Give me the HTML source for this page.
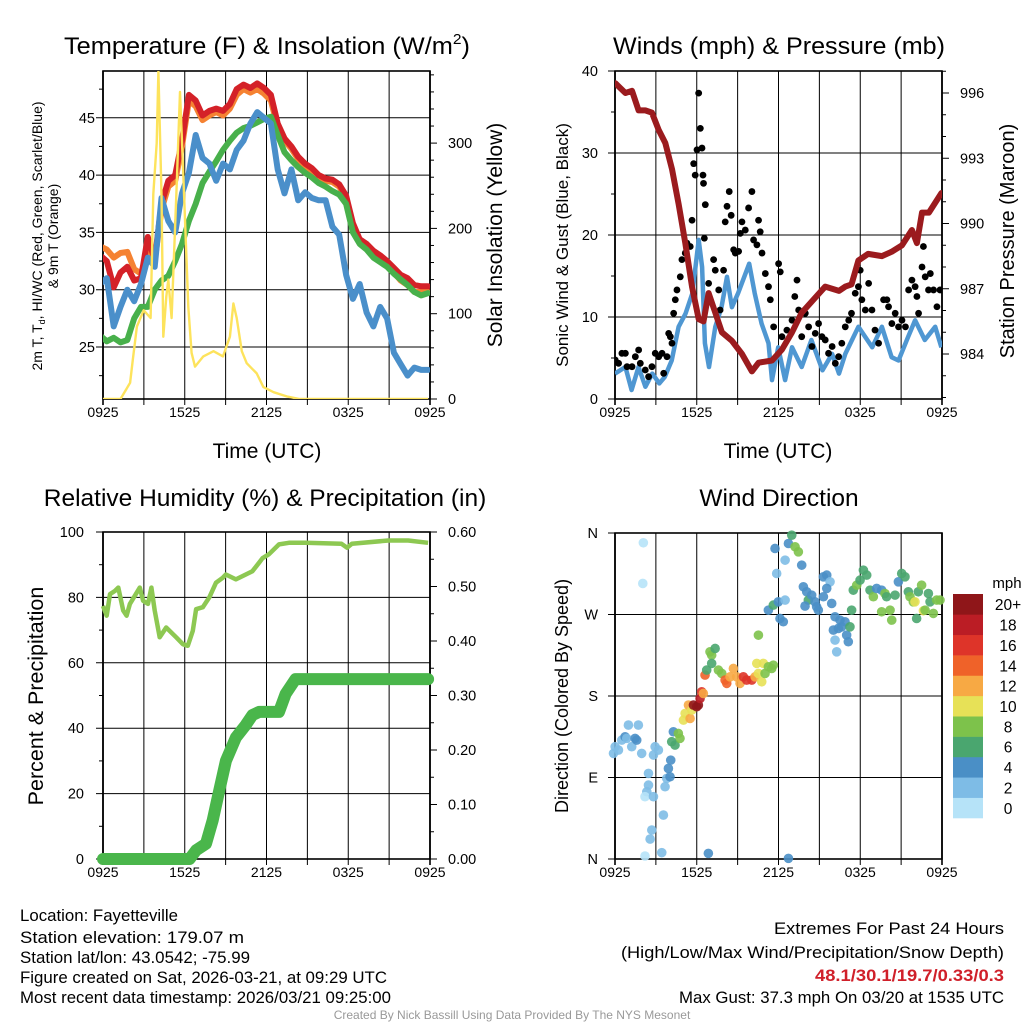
<!DOCTYPE html>
<html><head><meta charset="utf-8"><style>
html,body{margin:0;padding:0;background:#fff;}
svg{display:block;font-family:"Liberation Sans",Arial,sans-serif;}
</style></head><body>
<svg id="chart" width="1024" height="1024" viewBox="0 0 1024 1024" xmlns="http://www.w3.org/2000/svg">
<rect x="0" y="0" width="1024" height="1024" fill="#fff"/>
<g id="texts" font-size="16.5" fill="#000">
<text x="267" y="54" text-anchor="middle" font-size="24.5" textLength="406" lengthAdjust="spacingAndGlyphs">Temperature (F) &amp; Insolation (W/m<tspan font-size="15" dy="-10">2</tspan><tspan dy="10">)</tspan></text>
<text x="779" y="54" text-anchor="middle" font-size="24.5" textLength="332" lengthAdjust="spacingAndGlyphs">Winds (mph) &amp; Pressure (mb)</text>
<text x="265" y="506" text-anchor="middle" font-size="24.5">Relative Humidity (%) &amp; Precipitation (in)</text>
<text x="779" y="506" text-anchor="middle" font-size="24.5">Wind Direction</text>
<text x="267" y="458" text-anchor="middle" font-size="21">Time (UTC)</text>
<text x="778" y="458" text-anchor="middle" font-size="21">Time (UTC)</text>
<text transform="translate(42,236) rotate(-90)" text-anchor="middle" font-size="14">2m T, T<tspan font-size="9" dy="3">d</tspan><tspan dy="-3">, HI/WC (Red, Green, Scarlet/Blue)</tspan></text>
<text transform="translate(58,236) rotate(-90)" text-anchor="middle" font-size="14">&amp; 9m T (Orange)</text>
<text transform="translate(502,235) rotate(-90)" text-anchor="middle" font-size="21">Solar Insolation (Yellow)</text>
<text transform="translate(568,245) rotate(-90)" text-anchor="middle" font-size="17">Sonic Wind &amp; Gust (Blue, Black)</text>
<text transform="translate(1014,241) rotate(-90)" text-anchor="middle" font-size="20">Station Pressure (Maroon)</text>
<text transform="translate(43,696) rotate(-90)" text-anchor="middle" font-size="21.5">Percent &amp; Precipitation</text>
<text transform="translate(568,696) rotate(-90)" text-anchor="middle" font-size="18">Direction (Colored By Speed)</text>
<text x="20" y="921" textLength="158" lengthAdjust="spacingAndGlyphs">Location: Fayetteville</text>
<text x="20" y="943" textLength="224" lengthAdjust="spacingAndGlyphs">Station elevation: 179.07 m</text>
<text x="20" y="963" textLength="230" lengthAdjust="spacingAndGlyphs">Station lat/lon: 43.0542; -75.99</text>
<text x="20" y="983" textLength="367" lengthAdjust="spacingAndGlyphs">Figure created on Sat, 2026-03-21, at 09:29 UTC</text>
<text x="20" y="1003" textLength="371" lengthAdjust="spacingAndGlyphs">Most recent data timestamp: 2026/03/21 09:25:00</text>
<text x="1004" y="934" text-anchor="end" textLength="230" lengthAdjust="spacingAndGlyphs">Extremes For Past 24 Hours</text>
<text x="1004" y="958" text-anchor="end" textLength="383" lengthAdjust="spacingAndGlyphs">(High/Low/Max Wind/Precipitation/Snow Depth)</text>
<text x="1004" y="981" text-anchor="end" font-weight="bold" fill="#d0202a" textLength="189" lengthAdjust="spacingAndGlyphs">48.1/30.1/19.7/0.33/0.3</text>
<text x="1004" y="1003" text-anchor="end" textLength="325" lengthAdjust="spacingAndGlyphs">Max Gust: 37.3 mph On 03/20 at 1535 UTC</text>
<text x="512" y="1019" text-anchor="middle" font-size="12" fill="#999">Created By Nick Bassill Using Data Provided By The NYS Mesonet</text>
<text x="1007" y="588" text-anchor="middle" font-size="15">mph</text>
</g>
</svg>
<script>
// ---------- DATA ----------
const xTickLabels = ["0925","1525","2125","0325","0925"];
const tempHours = [0,0.5,1,1.5,2,2.5,3,3.5,4,4.5,5,5.5,6,6.5,7,7.5,8,8.5,9,9.5,10,10.5,11,11.5,12,12.5,13,13.5,14,14.5,15,15.5,16,16.5,17,17.5,18,18.5,19,19.5,20,20.5,21,21.5,22,22.5,23,23.5,24];
const redT = [33,32.5,30.2,31.5,32,30.8,31,34.6,32.6,37.5,39.5,40,43,47,46.5,45.2,45.6,45.8,45.6,46.2,47.5,47.9,47.6,48,47.6,47,44.5,43.2,42.5,41.6,41,40.6,40,39.7,39.6,39.2,38.2,35.8,34.4,34,33.4,33,32.5,31.9,31.3,31,30.4,30.3,30.3];
const orangeT = [33.8,33.5,32.8,33.2,33.3,31.8,31.4,33.5,32.5,37,39,39.5,42.5,46.5,46,44.8,45.2,45.5,45.2,45.8,47,47.5,47.2,47.5,47.1,46.5,44.2,43,42.3,41.4,40.8,40.4,39.8,39.5,39.4,39,38,35.6,34.1,33.7,33.1,32.7,32.2,31.5,30.8,30.4,29.8,29.8,29.8];
const greenT = [26,25.5,25.8,25.4,25.6,27.5,28.5,28.5,30,30.8,31.2,32.5,34,36,37.5,39.3,40.3,41.2,42.2,43,43.7,44.1,44.3,44.6,44.9,45.1,43.5,42,41.3,40.7,40.2,39.8,39.3,39,38.6,38.3,37.5,35,34,33.5,32.8,32.4,32,31.4,30.9,30.4,29.8,29.5,29.7];
const blueT = [30.5,31,26.8,28.5,30,29,30.5,32.8,32,38,36,35,38.4,40.2,43.5,41.5,41,39.5,41,40.5,42.2,43,44.5,45.5,45,44.5,40.5,38.4,40.5,37.8,38.5,38,37.8,37.8,35.5,34.8,31.3,29.2,30.5,28,26.8,28.5,27.5,24.5,23.5,22.5,23.2,23,23];
const solarHours = [0,1.5,2.2,2.4,2.7,3.2,3.7,3.9,4.15,4.27,4.5,4.63,4.85,5.0,5.24,5.6,5.85,6.1,6.46,6.7,6.95,7.56,8.3,9.0,9.5,9.76,10.0,10.37,10.73,11.46,11.95,12.7,13.66,14.6,24];
const solarVals = [0,0,19,46,85,104,95,240,300,384,240,73,120,140,95,248,360,260,108,54,38,50,56,50,73,112,95,56,42,30,14,8,3,0,0];
const tempTicks = [25,30,35,40,45];
const solarTicks = [0,100,200,300];
const presHours = [0.52,1.25,1.73,2.21,2.69,3.17,3.66,4.14,4.62,5.1,5.58,6.07,6.55,6.9,7.27,7.75,8.23,8.96,9.68,10.4,10.88,11.85,12.57,13.3,14.0,15.0,15.7,16.7,17.15,17.6,18.1,18.8,19.8,20.5,21.25,21.97,22.33,22.7,23.2,24.1];
const presVals = [996.45,996,996.1,995.2,995.2,995.1,994.3,993.7,992.5,990.9,989.1,987.1,985.6,985.5,986.8,985.9,985,984.6,984,983.2,983.6,983.7,984.2,985,985.9,986.6,987.1,986.9,987.1,987.2,988.3,988.6,988.5,988.7,989,989.7,989.1,990.5,990.5,991.4];
const windHours = [0.5,1.25,1.7,2.2,2.7,3.2,3.7,4.1,4.6,5.1,5.6,6.1,6.55,6.8,7.0,7.3,7.75,8.2,8.6,8.95,9.4,10.2,10.6,11.1,11.6,11.85,12.3,12.8,13.3,14.0,14.7,15.5,16.2,16.7,17.15,18.1,19.1,19.8,20.5,21.0,21.7,22.2,22.9,23.65,24.1];
const windVals = [3.1,3.9,1.1,3.9,1.5,3.1,1.9,2.7,4.7,8.8,10.4,12.9,19.4,16.1,6.8,3.9,8.8,11.2,14.9,11.2,12.9,16.5,12.9,9.2,6.8,2.3,6.3,2.3,6.3,3.9,7.2,3.5,5.5,3.1,5.5,8.8,6.3,8.8,5.1,4.7,7.6,9.6,7.2,8.8,6.3];
const gustHours = [0.52,0.76,1.0,1.25,1.37,1.73,1.97,2.21,2.33,2.69,2.93,3.17,3.41,3.66,3.9,4.02,4.26,4.38,4.5,4.62,4.74,4.86,4.98,5.22,5.34,5.58,5.7,5.94,6.07,6.19,6.3,6.43,6.55,6.67,6.79,6.86,6.9,7.03,6.96,7.27,7.39,7.63,7.75,8.0,8.1,8.35,8.47,8.6,8.76,8.9,9.08,9.2,9.44,9.56,9.68,9.92,10.16,10.4,10.52,10.76,10.88,11.0,11.13,11.37,11.6,11.73,11.97,12.33,12.45,12.57,12.93,13.3,13.5,13.66,13.78,14.0,14.26,14.5,14.74,14.98,15.22,15.46,15.7,15.94,16.2,16.43,16.67,16.9,17.15,17.4,17.6,17.87,18.1,18.23,18.35,18.6,18.84,19.08,19.3,19.56,19.92,20.16,20.28,20.52,20.76,21.0,21.25,21.5,21.73,21.97,22.2,22.33,22.45,22.7,22.8,22.93,23.17,23.3,23.53,23.78,24.0];
const gustVals = [4.76,4.35,5.57,5.57,3.94,3.94,5.16,5.98,4.35,3.54,2.72,3.94,5.57,5.16,5.57,3.13,5.16,8.0,7.6,6.8,10.45,12.1,13.3,14.9,17.0,17.8,19.0,18.6,21.8,28.7,27.3,30.4,37.3,33.0,30.6,27.3,26.3,23.7,19.6,14.1,12.1,17.0,15.7,13.3,10.85,15.7,21.6,23.5,25.3,22.4,18.2,17.8,18.0,20.2,21.6,20.6,23.3,25.3,19.4,18.8,21.8,20.4,17.8,15.3,13.7,12.1,8.8,16.5,15.5,7.6,8.4,9.6,12.5,14.5,10.85,7.6,10.45,8.8,6.4,8.0,9.2,7.6,7.2,5.57,6.4,4.35,5.16,6.8,8.8,9.6,10.45,12.9,13.7,15.7,12.1,10.85,14.1,10.85,8.4,6.8,12.1,12.1,11.25,9.2,10.45,8.8,9.6,8.8,13.3,14.5,13.7,12.5,10.45,16.1,18.6,14.9,13.3,15.3,13.3,11.25,13.3];
const windTicks = [0,10,20,30,40];
const presTicks = [984,987,990,993,996];
const rhHours = [0,0.27,0.51,0.88,1.12,1.48,1.73,1.97,2.7,2.94,3.3,3.55,3.79,4.16,4.64,5.37,5.86,6.22,6.59,6.83,7.32,7.8,8.29,8.78,9.02,9.75,10.48,10.96,11.45,11.7,12.18,12.91,13.64,14.85,17.5,17.9,18.26,20.93,22.39,23.85];
const rhVals = [77.4,74.4,81,82,83,76,74.4,78,83,79,78,83,76,67.8,70.8,67.8,65.7,65.2,69.8,76.4,77,80,84.5,86,87,85.5,87,88,90.6,92,93.2,96.2,96.7,96.7,96.4,95.2,96.4,97.4,97.4,96.7];
const precipHours = [0,6.35,6.83,7.56,8.05,8.53,9.02,9.75,10.48,10.96,11.45,12.91,13.4,14.12,23.85];
const precipVals = [0,0,0.016,0.028,0.071,0.126,0.18,0.223,0.246,0.264,0.27,0.27,0.303,0.33,0.33];
const rhTicks = [0,20,40,60,80,100];
const precipTicks = ["0.00","0.10","0.20","0.30","0.40","0.50","0.60"];
const dirHours = [0.39,0.51,0.75,0.99,1.23,1.35,1.47,1.71,1.95,2.07,2.19,2.43,2.55,2.51,3.28,3.4,3.64,2.92,2.92,2.8,2.67,3.28,4.0,3.16,3.04,2.67,3.88,4.24,4.36,4.53,4.12,4.48,4.72,4.84,5.08,5.2,4.6,5.45,5.57,5.81,5.93,6.05,6.17,6.41,6.53,6.65,6.77,6.89,7.01,7.13,7.37,7.49,7.74,7.49,7.98,8.22,8.46,8.58,8.82,9.06,9.3,9.54,9.78,10.02,10.39,10.63,10.87,10.75,11.23,11.11,11.35,11.59,11.83,11.95,10.87,11.59,11.95,12.31,12.43,12.67,12.19,12.8,12.07,12.8,13.04,13.28,13.52,13.76,14.0,14.12,14.36,14.48,14.72,14.96,15.2,14.24,15.08,15.57,15.81,16.05,15.81,15.57,16.17,16.41,16.77,16.89,17.13,16.29,16.65,16.41,16.53,17.25,17.49,17.37,17.61,17.73,17.98,18.22,18.46,18.7,18.94,19.18,19.42,19.78,20.02,20.14,19.78,20.39,20.51,20.75,20.99,21.23,21.47,21.71,21.83,22.07,22.19,22.31,22.43,22.67,22.8,22.92,23.16,23.28,23.52,23.76,24.0,13.04,7.25];
const dirDeg = [116.6,124,120.3,131.3,135,133.2,147.9,124,133.2,131.3,147.9,116.6,349.2,304.3,114.8,124,120.3,94.5,81.6,74.3,68.8,68.8,48.5,32,22,3.3,7,89,100,109.2,79.8,90.8,140.5,125.8,138.7,133.2,129.5,153.4,160.8,170,155.2,164.4,170,168.1,170,177.3,184.7,182.8,203.1,208.6,228.8,225.2,232.5,216,208.6,204.9,197.6,193.9,201.2,210.4,201.2,193.9,201.2,197.6,197.6,201.2,204.9,216,216,195.7,204.9,212.3,210.4,214.1,247.2,274.8,280.4,284,265.6,262,315.3,285.9,342.9,330,348.4,357.6,344.8,339.2,324.5,300.6,295.1,285.9,291.4,284,274.8,279.3,278.5,311.6,313.5,306.1,298.8,289.6,282.2,267.5,263.8,256.4,262,252.8,254.6,241.7,228.8,247.2,256.4,239.9,274.8,296.9,302.4,308,319,313.5,296.9,289.6,298.8,296.9,293.2,289.6,273,274.8,263.8,291.4,306.1,315.3,311.6,295.1,289.6,284,284,265.6,295.1,302.4,274.1,274.8,293.2,284,271.2,285.9,285.9,0.7,6.2];
const dirSpeed = [3,3,2,3,4,2,2,2,4,4,2,2,0,0,2,2,2,2,2,2,0,2,2,2,2,1,2,3,4,4,2,4,5,6,8,8,7,10,10,12,13,11,20,21,20,18,17,13,14,7,8,8,7,7,8,9,14,15,13,12,13,12,16,17,16,12,11,10,10,10,9,8,8,8,8,5,7,5,4,4,3,2,4,2,4,7,8,8,4,4,4,6,4,4,4,4,4,4,4,3,4,4,4,4,4,4,4,4,4,2,2,5,6,4,6,6,8,6,6,6,6,8,4,5,8,6,8,8,8,6,4,6,6,6,8,8,10,6,6,8,10,8,6,7,8,8,8,4,4];
const dirTickLabels = ["N","E","S","W","N"];
const legendLabels = ["0","2","4","6","8","10","12","14","16","18","20+"];
const speedColors = ["#b6e3f8","#7ebce6","#4a8fc6","#4aa66f","#7dc24b","#e7e157","#f7a944","#ef6229","#de3429","#bb1d25","#8f1619"];

// ---------- DRAWING ----------
const NS = "http://www.w3.org/2000/svg";
const svg = document.getElementById('chart');
function mk(tag, attrs, parent){
  const e = document.createElementNS(NS, tag);
  for (const k in attrs) e.setAttribute(k, attrs[k]);
  (parent || svg).appendChild(e);
  return e;
}
const P = {
  tl:{x0:103,x1:430,y0:71,y1:399},
  tr:{x0:615,x1:942,y0:71,y1:399},
  bl:{x0:103,x1:430,y0:532,y1:859},
  br:{x0:615,x1:942,y0:533,y1:859}
};
const xTL = h => 100 + h*13.67;
const yTemp = v => 347 - (v-25)*11.46;
const ySolar = s => 399 - s*0.853;
const xTR = h => 615 + (h-0.5)*13.83;
const yWind = v => 399 - v*8.2;
const yPres = p => 354 - (p-984)*21.75;
const xBL = h => 103 + h*13.63;
const yRH = r => 859 - r*3.27;
const yPrecip = p => 859 - p*545;
const yDir = d => 859 - d*(326/360);

function frame(p, name){
  const g = mk('g', {});
  
  
  for (let k=0;k<=8;k++){
    const x = p.x0 + k*(p.x1-p.x0)/8;
    const l = mk('line', {x1:x,y1:p.y0,x2:x,y2:p.y1+6,stroke:'#000','stroke-width':(k===0||k===8)?1.6:1}, g);
    
    
  }
  for (let k=0;k<5;k++){
    const x = p.x0 + k*(p.x1-p.x0)/4;
    const t = mk('text', {x:x,y:p.y1+18,'text-anchor':'middle','font-size':14}, g);
    t.textContent = xTickLabels[k];
    
    
  }
  const r = mk('rect', {x:p.x0,y:p.y0,width:p.x1-p.x0,height:p.y1-p.y0,fill:'none',stroke:'#000','stroke-width':1.6}, g);
  
  
  return g;
}
function hline(p, y, g){
  const l = mk('line', {x1:p.x0-7,y1:y,x2:p.x1,y2:y,stroke:'#000','stroke-width':1}, g);
  
  
}
function ylabel(x, y, txt, anchor, g){
  const t = mk('text', {x:x,y:y+5,'text-anchor':anchor,'font-size':14.5}, g);
  t.textContent = txt;
  
  
}
function rtick(p, y, len, g){
  const l = mk('line', {x1:p.x1,y1:y,x2:p.x1+len,y2:y,stroke:'#000','stroke-width':1}, g);
  
  
}
function ltick(p, y, len, g){
  const l = mk('line', {x1:p.x0-len,y1:y,x2:p.x0,y2:y,stroke:'#000','stroke-width':1}, g);
  
  
}
function pathOf(xs, ys, fx, fy){
  let d = '';
  for (let i=0;i<xs.length;i++) d += (i?'L':'M') + fx(xs[i]).toFixed(1) + ',' + fy(ys[i]).toFixed(1);
  return d;
}
function clip(id, p){
  const cp = mk('clipPath', {id:id});
  mk('rect', {x:p.x0,y:p.y0,width:p.x1-p.x0,height:p.y1-p.y0}, cp);
}

// ---- Temperature panel ----
let g = frame(P.tl, 'temp');
tempTicks.forEach(v => { hline(P.tl, yTemp(v), g); ylabel(95, yTemp(v), String(v), 'end', g); });
for (let v=22.5; v<49; v+=5) ltick(P.tl, yTemp(v), 4, g);
solarTicks.forEach(s => { rtick(P.tl, ySolar(s), 7, g); ylabel(448, ySolar(s), String(s), 'start', g); });
for (let s=20; s<384; s+=20) if (s%100) rtick(P.tl, ySolar(s), 4, g);
clip('cTL', P.tl);
const gTL = mk('g', {'clip-path':'url(#cTL)'});


const tSeries = [['orange-9m-temp',orangeT,'#f58232'],['red-2m-temp',redT,'#d42128'],['green-series',greenT,'#48b04b'],['blue-series',blueT,'#4a8fca']];
tSeries.forEach(s => {
  const e = mk('path', {d:pathOf(tempHours, s[1], xTL, yTemp), fill:'none', stroke:s[2], 'stroke-width':6, 'stroke-linejoin':'round', 'stroke-linecap':'round'}, gTL);
  
  
});
const sol = mk('path', {d:pathOf(solarHours, solarVals, xTL, ySolar), fill:'none', stroke:'#fde35c', 'stroke-width':2.4, 'stroke-linejoin':'round'}, gTL);



// ---- Wind panel ----
g = frame(P.tr, 'wind');
windTicks.forEach(v => { hline(P.tr, yWind(v), g); ylabel(598, yWind(v), String(v), 'end', g); });
for (let v=5; v<40; v+=10) ltick(P.tr, yWind(v), 4, g);
presTicks.forEach(p => { rtick(P.tr, yPres(p), 7, g); ylabel(960, yPres(p), String(p), 'start', g); });
for (let p=981; p<997.5; p+=1) if ((p-984)%3) rtick(P.tr, yPres(p), 4, g);
clip('cTR', P.tr);
const gTR = mk('g', {'clip-path':'url(#cTR)'});


const wl = mk('path', {d:pathOf(windHours, windVals, xTR, yWind), fill:'none', stroke:'#4f97d2', 'stroke-width':4.5, 'stroke-linejoin':'round'}, gTR);


for (let i=0;i<gustHours.length;i++){
  const c = mk('circle', {cx:xTR(gustHours[i]), cy:yWind(gustVals[i]), r:3.4, fill:'#000'}, gTR);
  
  
}
const pl = mk('path', {d:pathOf(presHours, presVals, xTR, yPres), fill:'none', stroke:'#9b1b1e', 'stroke-width':6, 'stroke-linejoin':'round', 'stroke-linecap':'round'}, gTR);



// ---- RH panel ----
g = frame(P.bl, 'rh');
rhTicks.forEach(v => { hline(P.bl, yRH(v), g); ylabel(84, yRH(v), String(v), 'end', g); });
for (let v=10; v<100; v+=20) ltick(P.bl, yRH(v), 4, g);
precipTicks.forEach(t => { const v = parseFloat(t); rtick(P.bl, yPrecip(v), 7, g); ylabel(448, yPrecip(v), t, 'start', g); });
for (let v=0.05; v<0.6; v+=0.1) rtick(P.bl, yPrecip(v), 4, g);
const gBL = mk('g', {});


const rl = mk('path', {d:pathOf(rhHours, rhVals, xBL, yRH), fill:'none', stroke:'#8dc852', 'stroke-width':4.5, 'stroke-linejoin':'round'}, gBL);


const prl = mk('path', {d:pathOf(precipHours, precipVals, xBL, yPrecip), fill:'none', stroke:'#4ab64b', 'stroke-width':12, 'stroke-linejoin':'round', 'stroke-linecap':'round'}, gBL);



// ---- Direction panel ----
g = frame(P.br, 'dir');
dirTickLabels.forEach((t,k) => { const d = k*90; hline(P.br, yDir(d), g); ylabel(598, yDir(d), t, 'end', g); });
const gBR = mk('g', {});


for (let i=0;i<dirHours.length;i++){
  const bin = Math.min(10, Math.floor(dirSpeed[i]/2));
  const c = mk('circle', {cx:xTR(dirHours[i]), cy:yDir(dirDeg[i]), r:4.8, fill:speedColors[bin], 'fill-opacity':0.9}, gBR);
  
  
}
const gL = mk('g', {});


const boxH = 224/legendLabels.length;
for (let i=0;i<legendLabels.length;i++){
  const y = 818 - (i+1)*boxH;
  const r = mk('rect', {x:953,y:y,width:30,height:boxH+0.3,fill:speedColors[i]}, gL);
  
  
  const t = mk('text', {x:1008,y:y+boxH/2+6,'text-anchor':'middle','font-size':15.5}, gL);
  t.textContent = legendLabels[i];
  
  
}
</script>
</body></html>
